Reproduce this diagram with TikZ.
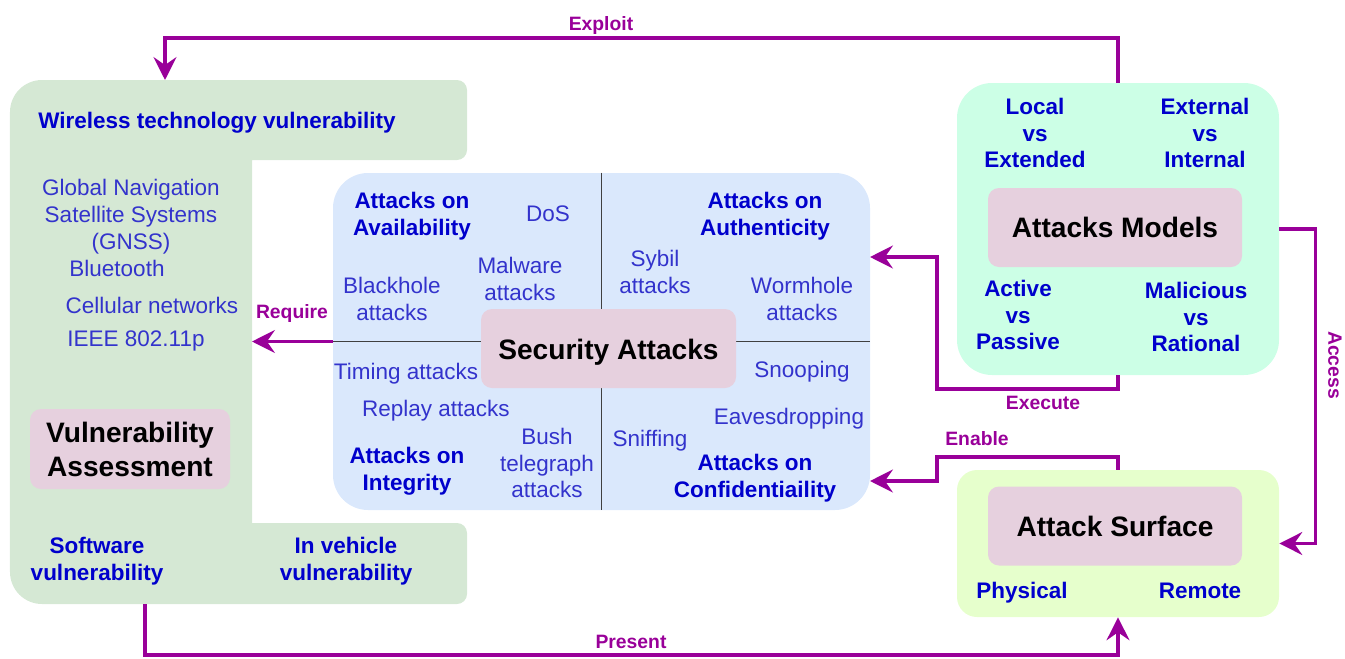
\documentclass[tikz,border=0pt]{standalone}
\usepackage{fontspec}
\setmainfont{Liberation Sans}
\usetikzlibrary{arrows.meta}

\definecolor{vulngreen}{HTML}{D5E8D4}
\definecolor{secblue}{HTML}{DAE8FC}
\definecolor{modelmint}{HTML}{CCFFE6}
\definecolor{surflime}{HTML}{E6FFCC}
\definecolor{corepink}{HTML}{E6D0DE}
\definecolor{linkpurple}{HTML}{990099}
\definecolor{hdblue}{HTML}{0000CC}
\definecolor{itblue}{HTML}{3333CC}

\begin{document}
\begin{tikzpicture}[
    it/.style={text=itblue, align=center, inner sep=1pt,
               font=\fontsize{12.8}{15.3}\selectfont},
    hd/.style={text=hdblue, align=center, inner sep=1pt,
               font=\bfseries\fontsize{12.8}{15.3}\selectfont},
    core/.style={fill=corepink, rounded corners=0.22cm, align=center,
                 minimum width=5.08cm, minimum height=1.58cm,
                 font=\bfseries\fontsize{16}{19.3}\selectfont},
    grp/.style={rounded corners=0.7cm, minimum width=6.44cm, inner sep=0pt},
    divl/.style={draw=black!75, line width=0.6pt},
    fl/.style={-{Stealth[length=13pt, width=13pt, inset=4.5pt]},
               draw=linkpurple, line width=2pt},
    lbl/.style={text=linkpurple, inner sep=1pt,
                font=\bfseries\fontsize{11}{13}\selectfont}
]
  \useasboundingbox (0,0) rectangle (26.9,-13.16);

  % ================= 漏洞评估（L 形区域） =================
  \fill[vulngreen] (0.2,-2.24) arc[start angle=180, end angle=90, radius=0.64]
      -- (9.14,-1.6) arc[start angle=90, end angle=0, radius=0.2]
      -- (9.34,-3.0) arc[start angle=0, end angle=-90, radius=0.2]
      -- (5.04,-3.2) -- (5.04,-10.46)
      -- (9.14,-10.46) arc[start angle=90, end angle=0, radius=0.2]
      -- (9.34,-11.88) arc[start angle=0, end angle=-90, radius=0.2]
      -- (0.84,-12.08) arc[start angle=270, end angle=180, radius=0.64]
      -- cycle;
  \coordinate (vulnTop) at (3.3,-1.6);
  \coordinate (vulnIn)  at (5.04,-6.83);
  \coordinate (vulnBot) at (2.9,-12.08);

  \node[hd] (wireless)  at (4.34,-2.46) {Wireless technology vulnerability};
  \node[it] (gnss)      at (2.62,-4.34) {Global Navigation\\Satellite Systems\\(GNSS)};
  \node[it] (bt)        at (2.34,-5.36) {Bluetooth};
  \node[it] (cell)      at (3.04,-6.1)  {Cellular networks};
  \node[it] (ieee)      at (2.72,-6.82) {IEEE 802.11p};
  \node[core, minimum width=4cm, minimum height=1.6cm] (vassess) at (2.6,-8.98)
      {Vulnerability\\Assessment};
  \node[hd] (software)  at (1.94,-11.22) {Software\\vulnerability};
  \node[hd] (invehicle) at (6.92,-11.22) {In vehicle\\vulnerability};

  % ================= 安全攻击 =================
  \node[grp, fill=secblue, minimum width=10.74cm, minimum height=6.74cm]
      (secatk) at (12.03,-6.83) {};
  \draw[divl] (secatk.north) -- (secatk.south);
  \draw[divl] (secatk.west)  -- (secatk.east);
  \node[core, minimum width=5.1cm] (security) at (12.17,-6.97)
      {\raisebox{-6pt}[0pt][0pt]{Security Attacks}};

  \node[hd] (avail)     at (8.24,-4.32)  {Attacks on\\Availability};
  \node[it] (dos)       at (10.96,-4.28) {DoS};
  \node[it] (malware)   at (10.4,-5.58)  {Malware\\attacks};
  \node[it] (blackhole) at (7.84,-5.98)  {Blackhole\\attacks};
  \node[hd] (authen)    at (15.3,-4.32)  {Attacks on\\Authenticity};
  \node[it] (sybil)     at (13.1,-5.44)  {Sybil\\attacks};
  \node[it] (wormhole)  at (16.04,-5.98) {Wormhole\\attacks};
  \node[it] (timing)    at (8.12,-7.48)  {Timing attacks};
  \node[it] (replay)    at (8.72,-8.22)  {Replay attacks};
  \node[hd] (integ)     at (8.14,-9.42)  {Attacks on\\Integrity};
  \node[it] (bush)      at (10.94,-9.26) {Bush\\telegraph\\attacks};
  \node[it] (snoop)     at (16.04,-7.44) {Snooping};
  \node[it] (eaves)     at (15.78,-8.38) {Eavesdropping};
  \node[it] (sniff)     at (13.0,-8.82)  {Sniffing};
  \node[hd] (confid)    at (15.1,-9.56)  {Attacks on\\Confidentiaility};

  % ================= 攻击模型 =================
  \node[grp, fill=modelmint, minimum height=5.84cm] (models) at (22.36,-4.58) {};
  \node[core] (attmodels) at (22.3,-4.55) {Attacks Models};
  \node[hd] (local)  at (20.7,-2.66)  {Local\\vs\\Extended};
  \node[hd] (extint) at (24.1,-2.66)  {External\\vs\\Internal};
  \node[hd] (active) at (20.36,-6.3)  {Active\\vs\\Passive};
  \node[hd] (malic)  at (23.92,-6.34) {Malicious\\vs\\Rational};

  % ================= 攻击面 =================
  \node[grp, fill=surflime, rounded corners=0.4cm, minimum height=2.94cm]
      (surface) at (22.36,-10.87) {};
  \node[core] (attsurface) at (22.3,-10.52) {Attack Surface};
  \node[hd] (physical) at (20.44,-11.86) {Physical};
  \node[hd] (remote)   at (24.0,-11.82)  {Remote};

  % ================= 连线 =================
  \coordinate (exeIn) at (17.4,-5.14);
  \coordinate (enIn)  at (17.4,-9.62);

  % 攻击模型 → 无线技术漏洞
  \draw[fl] (models.north) |- (3.3,-0.76) -- (vulnTop);
  \node[lbl] (exploit) at (12.02,-0.5) {Exploit};

  % 安全攻击 → 漏洞评估
  \draw[fl] (secatk.west) -- (vulnIn);
  \node[lbl] (require) at (5.84,-6.26) {Require};

  % 攻击模型 → 安全攻击
  \draw[fl] (models.south) |- (18.74,-7.78) |- (exeIn);
  \node[lbl] (execute) at (20.86,-8.06) {Execute};

  % 攻击面 → 安全攻击
  \draw[fl] (surface.north) |- (18.74,-9.14) |- (enIn);
  \node[lbl] (enable) at (19.54,-8.78) {Enable};

  % 攻击模型 → 攻击面
  \draw[fl] (models.east) -- ++(0.72,0) |- (surface.east);
  \node[lbl, rotate=-90] (access) at (26.7,-7.3) {Access};

  % 漏洞评估 → 攻击面
  \draw[fl] (vulnBot) -- (2.9,-13.1) -| (surface.south);
  \node[lbl] (present) at (12.62,-12.84) {Present};

\end{tikzpicture}
\end{document}
